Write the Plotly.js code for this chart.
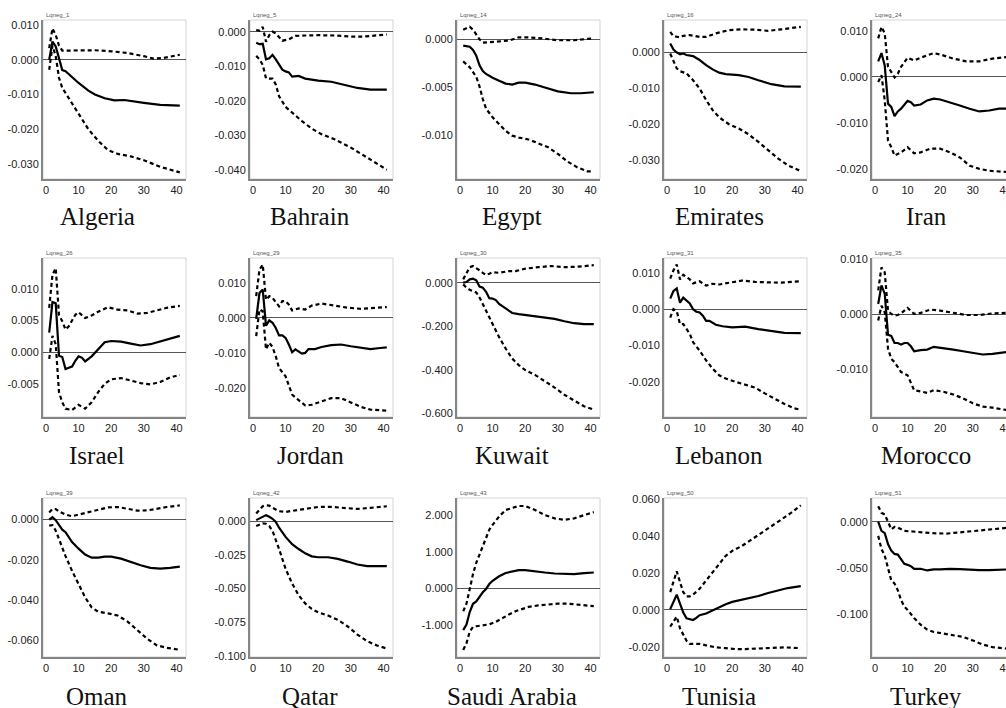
<!DOCTYPE html>
<html>
<head>
<meta charset="utf-8">
<script src="https://cdn.plot.ly/plotly-3.0.1.min.js"></script>
<style>
html,body{margin:0;padding:0;background:#fff;overflow:hidden;}
#chart{width:1030px;height:708px;}
</style>
</head>
<body>
<div id="chart"></div>
<script>
// ---------------- DATA ----------------
const COUNTRIES = ['Algeria','Bahrain','Egypt','Emirates','Iran','Israel','Jordan','Kuwait','Lebanon','Morocco','Oman','Qatar','Saudi Arabia','Tunisia','Turkey'];
const CODES = ['Lqneg_1','Lqneg_5','Lqneg_14','Lqneg_16','Lqneg_24','Lqneg_26','Lqneg_29','Lqneg_30','Lqneg_31','Lqneg_35','Lqneg_39','Lqneg_42','Lqneg_43','Lqneg_50','Lqneg_51'];
const X_TICKS = [0,10,20,30,40];

const Y_TICKS = [
  [0.01,0,-0.01,-0.02,-0.03],
  [0,-0.01,-0.02,-0.03,-0.04],
  [0,-0.005,-0.01],
  [0,-0.01,-0.02,-0.03],
  [0.01,0,-0.01,-0.02],
  [0.01,0.005,0,-0.005],
  [0.01,0,-0.01,-0.02],
  [0,-0.2,-0.4,-0.6],
  [0.01,0,-0.01,-0.02],
  [0.01,0,-0.01],
  [0,-0.02,-0.04,-0.06],
  [0,-0.025,-0.05,-0.075,-0.1],
  [2,1,0,-1],
  [0.06,0.04,0.02,0,-0.02],
  [0,-0.05,-0.1]
];
const Y_RANGES = [
  [-0.0343,0.0114],[-0.0427,0.0034],[-0.0145,0.0020],[-0.0351,0.0090],[-0.0222,0.0124],
  [-0.0101,0.0148],[-0.0283,0.0171],[-0.616,0.113],[-0.0297,0.0141],[-0.0187,0.0103],
  [-0.0686,0.0108],[-0.1007,0.0171],[-1.885,2.479],[-0.0255,0.0605],[-0.1468,0.0257]
];

// Algeria
const ALG_MID_X=[1,2,3,4,5,6,8,10,13,15,18,21,24,27,30,35,38,41];
const ALG_MID_Y=[0.0000,0.0052,0.0038,0.0005,-0.0030,-0.0033,-0.0050,-0.0067,-0.0089,-0.0100,-0.0111,-0.0117,-0.0116,-0.0119,-0.0124,-0.0130,-0.0132,-0.0132];
const ALG_UP_X=[1,2,3,4,5,10,15,20,25,30,33,36,41];
const ALG_UP_Y=[0.0033,0.0090,0.0071,0.0040,0.0026,0.0027,0.0027,0.0024,0.0019,0.0010,0.0003,0.0005,0.0014];
const ALG_LO_X=[1,2,3,4,5,7,10,13,16,19,22,26,30,35,41];
const ALG_LO_Y=[-0.0029,0.0040,0.0010,-0.0052,-0.0081,-0.0110,-0.0157,-0.0200,-0.0233,-0.0260,-0.0271,-0.0278,-0.0289,-0.0308,-0.0324];
// Bahrain
const BAH_MID_X=[1,2,3,4,5,6,7,8,9,10,11,12,14,16,20,24,28,32,36,41];
const BAH_MID_Y=[-0.0032,-0.0036,-0.0035,-0.0080,-0.0077,-0.0067,-0.0080,-0.0094,-0.0110,-0.0115,-0.0118,-0.0130,-0.0128,-0.0136,-0.0142,-0.0145,-0.0155,-0.0163,-0.0168,-0.0168];
const BAH_UP_X=[1,2,3,4,5,6,7,9,11,13,16,20,25,30,34,38,41];
const BAH_UP_Y=[0.0005,0.0003,0.0014,-0.0029,-0.0010,0.0000,-0.0005,-0.0026,-0.0022,-0.0012,-0.0011,-0.0010,-0.0011,-0.0014,-0.0014,-0.0010,-0.0008];
const BAH_LO_X=[1,2,3,4,5,6,7,8,10,12,15,18,21,25,30,35,38,41];
const BAH_LO_Y=[-0.0070,-0.0080,-0.0096,-0.0135,-0.0136,-0.0136,-0.0153,-0.0187,-0.0218,-0.0235,-0.0259,-0.0281,-0.0297,-0.0312,-0.0336,-0.0365,-0.0382,-0.0400];
// Egypt
const EGY_MID_X=[1,3,4,5,6,7,8,10,12,14,16,18,20,23,26,30,34,37,41];
const EGY_MID_Y=[-0.00066,-0.00077,-0.0011,-0.0017,-0.0027,-0.0033,-0.0036,-0.0040,-0.0043,-0.0046,-0.0047,-0.0045,-0.0045,-0.0047,-0.0050,-0.0054,-0.0056,-0.0056,-0.0055];
const EGY_UP_X=[1,3,4,5,6,7,9,12,15,18,21,25,30,35,41];
const EGY_UP_Y=[0.0010,0.0013,0.0010,0.0005,0.0000,-0.00035,-0.0003,-0.0002,-0.00014,0.0002,0.0002,0.0001,-0.0001,-0.0001,0.0001];
const EGY_LO_X=[1,3,5,6,7,8,10,12,14,16,18,21,24,27,30,33,36,39,41];
const EGY_LO_Y=[-0.0023,-0.0029,-0.0039,-0.0049,-0.0062,-0.0072,-0.0081,-0.0088,-0.0095,-0.0100,-0.0102,-0.0104,-0.0108,-0.0112,-0.0119,-0.0127,-0.0133,-0.0137,-0.0137];
// Emirates
const EMI_MID_X=[1,2,3,4,5,6,8,10,12,14,16,18,22,25,28,32,36,41];
const EMI_MID_Y=[0.0025,0.0008,0.0000,-0.0005,-0.0003,-0.0007,-0.0010,-0.0021,-0.0035,-0.0047,-0.0056,-0.0060,-0.0063,-0.0068,-0.0077,-0.0088,-0.0094,-0.0095];
const EMI_UP_X=[1,2,4,5,7,10,12,15,19,23,27,31,35,41];
const EMI_UP_Y=[0.0057,0.0045,0.0042,0.0046,0.0048,0.0043,0.0043,0.0053,0.0062,0.0064,0.0063,0.0060,0.0064,0.0071];
const EMI_LO_X=[1,2,3,4,6,8,10,12,14,16,19,22,25,28,31,34,37,41];
const EMI_LO_Y=[-0.0003,-0.0026,-0.0044,-0.0052,-0.0058,-0.0077,-0.0100,-0.0132,-0.0160,-0.0180,-0.0199,-0.0211,-0.0227,-0.0248,-0.0271,-0.0294,-0.0313,-0.0329];
// Iran
const IRN_MID_X=[1,2,3,4,5,6,7,8,10,11,12,14,16,18,20,23,26,29,32,35,38,41];
const IRN_MID_Y=[0.0034,0.0052,0.0025,-0.0058,-0.0065,-0.0085,-0.0075,-0.0069,-0.0052,-0.0055,-0.0062,-0.0060,-0.0051,-0.0047,-0.0049,-0.0055,-0.0062,-0.0069,-0.0075,-0.0073,-0.0069,-0.0069];
const IRN_UP_X=[1,2,3,4,5,6,7,8,10,12,14,16,18,20,24,28,32,36,41];
const IRN_UP_Y=[0.0084,0.0109,0.0095,0.0022,0.0011,-0.0001,0.0007,0.0022,0.0042,0.0036,0.0042,0.0047,0.0052,0.0049,0.0040,0.0034,0.0034,0.0040,0.0044];
const IRN_LO_X=[1,2,3,4,5,6,8,10,12,14,17,20,23,26,29,32,35,38,41];
const IRN_LO_Y=[-0.0011,0.0004,-0.0051,-0.0138,-0.0153,-0.0171,-0.0164,-0.0153,-0.0166,-0.0164,-0.0156,-0.0156,-0.0164,-0.0175,-0.0193,-0.0200,-0.0204,-0.0205,-0.0207];
// Israel
const ISR_MID_X=[1,2,3,4,5,6,7,8,9,10,11,12,14,16,18,20,23,26,29,32,35,38,41];
const ISR_MID_Y=[0.0031,0.0079,0.0077,-0.0005,-0.0007,-0.0026,-0.0024,-0.0022,-0.0013,-0.0006,-0.0008,-0.0014,-0.0006,0.0005,0.0016,0.0018,0.0017,0.0014,0.0011,0.0013,0.0017,0.0022,0.0026];
const ISR_UP_X=[1,2,3,4,5,6,7,9,10,12,14,16,19,22,25,28,31,34,37,41];
const ISR_UP_Y=[0.0070,0.0122,0.0132,0.0059,0.0049,0.0036,0.0041,0.0059,0.0063,0.0054,0.0058,0.0064,0.0071,0.0067,0.0066,0.0061,0.0062,0.0066,0.0070,0.0073];
const ISR_LO_X=[1,2,3,4,5,6,8,10,12,14,16,18,20,23,26,29,32,35,38,41];
const ISR_LO_Y=[-0.0010,0.0026,0.0013,-0.0062,-0.0078,-0.0088,-0.0090,-0.0082,-0.0088,-0.0078,-0.0062,-0.0049,-0.0042,-0.0040,-0.0044,-0.0048,-0.0050,-0.0046,-0.0039,-0.0035];
// Jordan
const JOR_MID_X=[1,2,3,4,5,6,7,8,9,10,11,12,13,14,15,16,17,19,21,24,27,30,33,36,39,41];
const JOR_MID_Y=[-0.0003,0.0071,0.0081,-0.0022,-0.0007,-0.0014,-0.0029,-0.0050,-0.0050,-0.0057,-0.0076,-0.0098,-0.0090,-0.0097,-0.0102,-0.0100,-0.0089,-0.0089,-0.0083,-0.0078,-0.0076,-0.0081,-0.0086,-0.0089,-0.0086,-0.0084];
const JOR_UP_X=[1,2,3,4,5,6,8,9,10,11,12,14,16,18,21,25,29,33,37,41];
const JOR_UP_Y=[0.0062,0.0138,0.0152,0.0052,0.0062,0.0057,0.0033,0.0048,0.0048,0.0038,0.0021,0.0027,0.0024,0.0035,0.0041,0.0035,0.0029,0.0026,0.0029,0.0031];
const JOR_LO_X=[1,2,3,4,5,6,7,8,10,11,12,14,16,18,21,24,27,30,33,36,41];
const JOR_LO_Y=[-0.0052,0.0024,0.0019,-0.0090,-0.0071,-0.0083,-0.0110,-0.0143,-0.0167,-0.0195,-0.0219,-0.0235,-0.0250,-0.0248,-0.0238,-0.0229,-0.0229,-0.0241,-0.0254,-0.0262,-0.0265];
// Kuwait
const KUW_MID_X=[1,2,3,4,5,6,7,8,9,10,11,12,14,16,18,20,23,26,29,32,35,38,41];
const KUW_MID_Y=[0.000,0.003,0.015,0.018,0.011,-0.018,-0.023,-0.042,-0.071,-0.073,-0.080,-0.098,-0.118,-0.139,-0.144,-0.148,-0.151,-0.159,-0.166,-0.177,-0.186,-0.190,-0.190];
const KUW_UP_X=[1,2,3,4,5,6,7,8,9,10,12,15,17,20,24,28,32,36,41];
const KUW_UP_Y=[0.015,0.045,0.071,0.076,0.068,0.057,0.045,0.035,0.041,0.048,0.045,0.053,0.053,0.064,0.071,0.076,0.071,0.073,0.080];
const KUW_LO_X=[1,2,3,5,6,7,8,10,12,14,16,18,20,23,26,29,32,35,38,41];
const KUW_LO_Y=[-0.008,-0.023,-0.033,-0.045,-0.068,-0.098,-0.129,-0.189,-0.250,-0.302,-0.348,-0.378,-0.401,-0.423,-0.451,-0.481,-0.514,-0.541,-0.567,-0.582];
// Lebanon
const LEB_MID_X=[1,2,3,4,5,6,7,8,9,10,11,12,13,15,17,20,24,28,32,36,41];
const LEB_MID_Y=[0.0029,0.0050,0.0057,0.0018,0.0032,0.0023,0.0016,0.0000,-0.0007,-0.0009,-0.0018,-0.0032,-0.0032,-0.0043,-0.0047,-0.0050,-0.0048,-0.0055,-0.0061,-0.0065,-0.0066];
const LEB_UP_X=[1,2,3,4,5,6,7,8,10,12,14,16,19,23,27,31,35,41];
const LEB_UP_Y=[0.0084,0.0107,0.0123,0.0082,0.0095,0.0089,0.0082,0.0071,0.0077,0.0065,0.0070,0.0068,0.0073,0.0079,0.0075,0.0073,0.0073,0.0077];
const LEB_LO_X=[1,2,3,4,5,6,7,8,10,12,14,16,18,21,24,27,30,33,36,39,41];
const LEB_LO_Y=[-0.0023,0.0000,-0.0005,-0.0041,-0.0041,-0.0055,-0.0068,-0.0091,-0.0114,-0.0141,-0.0164,-0.0182,-0.0191,-0.0200,-0.0207,-0.0216,-0.0232,-0.0247,-0.0261,-0.0273,-0.0277];
// Morocco
const MOR_MID_X=[1,2,3,4,5,6,7,8,9,10,11,12,14,16,18,21,24,27,30,33,36,41];
const MOR_MID_Y=[0.0019,0.0053,0.0038,-0.0037,-0.0039,-0.0052,-0.0052,-0.0055,-0.0052,-0.0052,-0.0058,-0.0067,-0.0065,-0.0064,-0.0059,-0.0061,-0.0064,-0.0067,-0.0070,-0.0073,-0.0072,-0.0068];
const MOR_UP_X=[1,2,3,4,5,6,7,8,10,12,14,17,20,24,28,32,36,41];
const MOR_UP_Y=[0.0044,0.0086,0.0077,0.0007,0.0001,-0.0002,-0.0001,0.0002,0.0012,0.0001,0.0003,0.0009,0.0007,0.0003,-0.0001,-0.0001,0.0002,0.0003];
const MOR_LO_X=[1,2,3,4,5,6,8,10,12,14,16,18,21,24,27,30,33,36,41];
const MOR_LO_Y=[-0.0011,0.0016,0.0004,-0.0062,-0.0081,-0.0087,-0.0105,-0.0111,-0.0138,-0.0141,-0.0143,-0.0138,-0.0141,-0.0146,-0.0153,-0.0162,-0.0168,-0.0170,-0.0175];
// Oman
const OMA_MID_X=[1,2,3,4,5,6,7,8,10,12,14,16,18,20,23,26,29,32,35,38,41];
const OMA_MID_Y=[0.0000,0.0012,-0.0003,-0.0025,-0.0050,-0.0063,-0.0091,-0.0112,-0.0145,-0.0174,-0.0190,-0.0190,-0.0185,-0.0185,-0.0195,-0.0212,-0.0228,-0.0241,-0.0245,-0.0241,-0.0235];
const OMA_UP_X=[1,2,3,4,6,8,10,13,16,19,22,25,28,31,34,37,41];
const OMA_UP_Y=[0.0036,0.0053,0.0053,0.0041,0.0025,0.0017,0.0025,0.0036,0.0050,0.0061,0.0063,0.0053,0.0045,0.0046,0.0055,0.0063,0.0071];
const OMA_LO_X=[1,2,3,4,6,8,10,12,14,16,19,22,25,28,31,34,37,41];
const OMA_LO_Y=[-0.0030,-0.0028,-0.0055,-0.0099,-0.0182,-0.0256,-0.0322,-0.0388,-0.0438,-0.0460,-0.0468,-0.0479,-0.0509,-0.0554,-0.0595,-0.0628,-0.0640,-0.0650];
// Qatar
const QAT_MID_X=[1,2,3,4,5,6,7,8,10,12,14,16,18,20,23,26,29,32,35,38,41];
const QAT_MID_Y=[0.0007,0.0020,0.0032,0.0044,0.0032,0.0017,-0.0007,-0.0049,-0.0117,-0.0171,-0.0207,-0.0239,-0.0261,-0.0268,-0.0268,-0.0280,-0.0300,-0.0322,-0.0334,-0.0334,-0.0334];
const QAT_UP_X=[1,2,3,4,5,6,8,10,13,16,20,24,28,32,36,41];
const QAT_UP_Y=[0.0056,0.0080,0.0110,0.0117,0.0115,0.0098,0.0073,0.0068,0.0078,0.0090,0.0105,0.0105,0.0098,0.0090,0.0098,0.0110];
const QAT_LO_X=[1,2,3,4,5,6,7,8,10,12,14,16,18,20,23,26,29,32,35,38,41];
const QAT_LO_Y=[-0.0037,-0.0024,-0.0017,-0.0020,-0.0037,-0.0073,-0.0134,-0.0207,-0.0354,-0.0463,-0.0549,-0.0610,-0.0651,-0.0676,-0.0700,-0.0732,-0.0780,-0.0841,-0.0890,-0.0922,-0.0944];
// Saudi Arabia
const SAU_MID_X=[1,2,3,4,5,6,7,8,9,10,12,14,16,18,20,23,26,29,32,35,38,41];
const SAU_MID_Y=[-1.147,-0.994,-0.650,-0.425,-0.360,-0.217,-0.108,-0.018,0.117,0.208,0.330,0.420,0.470,0.500,0.500,0.460,0.434,0.407,0.388,0.388,0.416,0.434];
const SAU_UP_X=[1,2,3,4,5,6,7,8,9,10,12,14,16,18,20,23,26,29,32,35,38,41];
const SAU_UP_Y=[-0.63,-0.42,-0.02,0.39,0.70,0.93,1.20,1.43,1.61,1.74,1.97,2.15,2.21,2.26,2.26,2.15,2.01,1.92,1.88,1.92,2.01,2.09];
const SAU_LO_X=[1,2,3,4,5,7,9,11,13,15,17,19,21,24,27,30,33,36,39,41];
const SAU_LO_Y=[-1.69,-1.51,-1.19,-1.06,-1.04,-1.01,-0.99,-0.92,-0.81,-0.72,-0.63,-0.56,-0.51,-0.47,-0.44,-0.42,-0.42,-0.44,-0.47,-0.49];
// Tunisia
const TUN_MID_X=[1,2,3,4,5,6,7,8,9,10,12,14,16,18,20,22,25,28,31,34,37,41];
const TUN_MID_Y=[0.0004,0.0043,0.0082,0.0034,-0.0014,-0.0046,-0.0050,-0.0055,-0.0043,-0.0029,-0.0020,-0.0002,0.0016,0.0030,0.0043,0.0050,0.0061,0.0075,0.0091,0.0105,0.0118,0.0128];
const TUN_UP_X=[1,2,3,4,5,6,7,8,10,12,14,16,18,20,23,26,29,32,35,38,41];
const TUN_UP_Y=[0.0096,0.0146,0.0208,0.0150,0.0096,0.0073,0.0073,0.0082,0.0114,0.0159,0.0203,0.0251,0.0292,0.0319,0.0346,0.0381,0.0417,0.0453,0.0488,0.0524,0.0565];
const TUN_LO_X=[1,2,3,4,5,6,7,8,10,12,15,18,21,24,27,30,33,36,41];
const TUN_LO_Y=[-0.0091,-0.0064,-0.0037,-0.0100,-0.0135,-0.0167,-0.0184,-0.0185,-0.0184,-0.0192,-0.0203,-0.0207,-0.0212,-0.0212,-0.0210,-0.0210,-0.0207,-0.0203,-0.0207];
// Turkey
const TUR_MID_X=[1,2,3,4,5,6,7,8,9,10,11,12,14,16,18,20,23,26,29,32,35,38,41];
const TUR_MID_Y=[0.0000,-0.0100,-0.0125,-0.0243,-0.0314,-0.0350,-0.0357,-0.0404,-0.0457,-0.0468,-0.0482,-0.0511,-0.0511,-0.0529,-0.0518,-0.0518,-0.0511,-0.0514,-0.0521,-0.0525,-0.0525,-0.0521,-0.0518];
const TUR_UP_X=[1,2,3,4,5,6,7,9,12,15,18,22,26,30,34,38,41];
const TUR_UP_Y=[0.0168,0.0096,0.0079,-0.0011,-0.0082,-0.0057,-0.0064,-0.0100,-0.0111,-0.0118,-0.0125,-0.0129,-0.0118,-0.0107,-0.0089,-0.0075,-0.0064];
const TUR_LO_X=[1,2,3,4,5,6,7,8,9,10,12,14,16,18,21,24,27,30,33,36,41];
const TUR_LO_Y=[-0.0154,-0.0296,-0.0368,-0.0511,-0.0636,-0.0671,-0.0743,-0.0850,-0.0921,-0.0957,-0.1046,-0.1118,-0.1171,-0.1196,-0.1214,-0.1225,-0.1250,-0.1289,-0.1332,-0.1361,-0.1379];

const SERIES = [
  [ALG_MID_X,ALG_MID_Y,ALG_UP_X,ALG_UP_Y,ALG_LO_X,ALG_LO_Y],
  [BAH_MID_X,BAH_MID_Y,BAH_UP_X,BAH_UP_Y,BAH_LO_X,BAH_LO_Y],
  [EGY_MID_X,EGY_MID_Y,EGY_UP_X,EGY_UP_Y,EGY_LO_X,EGY_LO_Y],
  [EMI_MID_X,EMI_MID_Y,EMI_UP_X,EMI_UP_Y,EMI_LO_X,EMI_LO_Y],
  [IRN_MID_X,IRN_MID_Y,IRN_UP_X,IRN_UP_Y,IRN_LO_X,IRN_LO_Y],
  [ISR_MID_X,ISR_MID_Y,ISR_UP_X,ISR_UP_Y,ISR_LO_X,ISR_LO_Y],
  [JOR_MID_X,JOR_MID_Y,JOR_UP_X,JOR_UP_Y,JOR_LO_X,JOR_LO_Y],
  [KUW_MID_X,KUW_MID_Y,KUW_UP_X,KUW_UP_Y,KUW_LO_X,KUW_LO_Y],
  [LEB_MID_X,LEB_MID_Y,LEB_UP_X,LEB_UP_Y,LEB_LO_X,LEB_LO_Y],
  [MOR_MID_X,MOR_MID_Y,MOR_UP_X,MOR_UP_Y,MOR_LO_X,MOR_LO_Y],
  [OMA_MID_X,OMA_MID_Y,OMA_UP_X,OMA_UP_Y,OMA_LO_X,OMA_LO_Y],
  [QAT_MID_X,QAT_MID_Y,QAT_UP_X,QAT_UP_Y,QAT_LO_X,QAT_LO_Y],
  [SAU_MID_X,SAU_MID_Y,SAU_UP_X,SAU_UP_Y,SAU_LO_X,SAU_LO_Y],
  [TUN_MID_X,TUN_MID_Y,TUN_UP_X,TUN_UP_Y,TUN_LO_X,TUN_LO_Y],
  [TUR_MID_X,TUR_MID_Y,TUR_UP_X,TUR_UP_Y,TUR_LO_X,TUR_LO_Y]
];

// ---------------- LAYOUT ----------------
const W = 1030, H = 708;
const COL_L = [43, 250, 457, 664, 872];
const PW = 143;
const ROW_T = [20, 258, 498];
const PH = 159;
const LABEL_CX = [97, 310, 512, 719, 926];
const LABEL_CY = [216, 455, 696];

const tickFont = {family: 'Liberation Sans, Arial, sans-serif', size: 11, color: '#222'};
const data = [];
const layout = {
  width: W, height: H,
  margin: {l: 0, r: 0, t: 0, b: 0},
  paper_bgcolor: '#fff',
  plot_bgcolor: 'rgba(0,0,0,0)',
  showlegend: false,
  hovermode: false,
  shapes: [],
  annotations: []
};

for (let i = 0; i < COUNTRIES.length; i++) {
  const r = Math.floor(i / 5), c = i % 5, n = i + 1;
  const xs = n === 1 ? 'x' : 'x' + n, ys = n === 1 ? 'y' : 'y' + n;
  const xd = [COL_L[c] / W, (COL_L[c] + PW) / W];
  const yd = [1 - (ROW_T[r] + PH) / H, 1 - ROW_T[r] / H];
  const s = SERIES[i];
  data.push({x: s[2], y: s[3], xaxis: xs, yaxis: ys, mode: 'lines', type: 'scatter',
    line: {color: '#000', width: 2.2, dash: '4px,3px'}});
  data.push({x: s[4], y: s[5], xaxis: xs, yaxis: ys, mode: 'lines', type: 'scatter',
    line: {color: '#000', width: 2.2, dash: '4px,3px'}});
  data.push({x: s[0], y: s[1], xaxis: xs, yaxis: ys, mode: 'lines', type: 'scatter',
    line: {color: '#000', width: 2.2}});

  layout[n === 1 ? 'xaxis' : 'xaxis' + n] = {
    domain: xd, anchor: ys, range: [-0.9, 42.9],
    tickvals: X_TICKS, ticktext: X_TICKS.map(String),
    showgrid: false, zeroline: false, showline: true,
    linecolor: '#858585', linewidth: 2, ticks: '', tickfont: tickFont,
    fixedrange: true
  };
  const yt = Y_TICKS[i];
  layout[n === 1 ? 'yaxis' : 'yaxis' + n] = {
    domain: yd, anchor: xs, range: Y_RANGES[i],
    tickvals: yt, ticktext: yt.map(v => v.toFixed(3)),
    showgrid: false, zeroline: true, zerolinecolor: '#555', zerolinewidth: 1,
    showline: true, linecolor: '#858585', linewidth: 2, ticks: '', tickfont: tickFont,
    fixedrange: true
  };
  layout.shapes.push({type: 'rect', xref: 'paper', yref: 'paper', layer: 'below',
    x0: xd[0], x1: xd[1], y0: yd[0], y1: yd[1], line: {color: '#d4d4d4', width: 1}});
  layout.annotations.push({xref: 'paper', yref: 'paper', x: xd[0] + 1 / W, y: yd[1],
    xanchor: 'left', yanchor: 'bottom', showarrow: false, text: CODES[i],
    font: {family: 'Liberation Sans, Arial, sans-serif', size: 6, color: '#555'}});
  layout.annotations.push({xref: 'paper', yref: 'paper', x: LABEL_CX[c] / W, y: 1 - LABEL_CY[r] / H,
    xanchor: 'center', yanchor: 'middle', showarrow: false, text: COUNTRIES[i],
    font: {family: 'Liberation Serif, Times New Roman, serif', size: 25, color: '#111'}});
}

Plotly.newPlot('chart', data, layout, {staticPlot: true, displayModeBar: false});
</script>
</body>
</html>
